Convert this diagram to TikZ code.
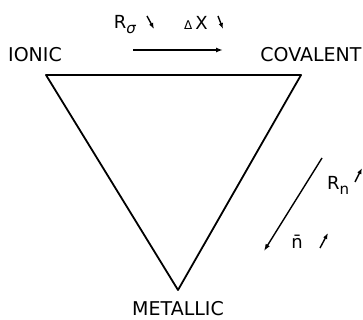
\documentclass[tikz,border=0pt]{standalone}
\usepackage{fontspec}
\setmainfont{DejaVu Sans}
\usetikzlibrary{arrows.meta,positioning}
\tikzset{
  corner/.style={font=\fontsize{19}{21}\selectfont, inner sep=0pt},
  param/.style={font=\fontsize{18}{20}\selectfont, inner sep=0pt},
  edge/.style={line width=1.8pt, line join=round},
  trend/.style={-{Latex[length=7pt,width=5pt]}, line width=1.4pt},
  tick/.style={-{Latex[length=6pt,width=4.5pt]}, line width=1.4pt}
}
\newcommand{\lowsub}[2]{#1\raisebox{-5pt}{\fontsize{15}{16}\selectfont #2}}
\begin{document}
\begin{tikzpicture}[x=1pt,y=-1pt]
  \useasboundingbox (0,0) rectangle (363,320);
  % vertices of the triangle
  \coordinate (ion) at (46,75);
  \coordinate (cov) at (301,75);
  \coordinate (met) at (178,290);
  \draw[edge] (ion) -- (cov) -- (met) -- cycle;
  % corner labels
  \node[corner] (ionic) at (35,55) {IONIC};
  \node[corner] (covalent) at (311,55) {COVALENT};
  \node[corner] (metallic) at (178,309) {METALLIC};
  % top trend
  \coordinate (ta) at (133,50);
  \coordinate (tb) at (223,50);
  \draw[trend] (ta) -- (tb);
  \node[param] (rsig) at (125,25) {\lowsub{R}{\textit{σ}}};
  \coordinate (rs1) at (147,16);
  \coordinate (rs2) at (154,29);
  \draw[tick] (rs1) -- (rs2);
  \node[param] (dx) at (196,23) {{\fontsize{12}{12}\selectfont Δ}\,X};
  \coordinate (dx1) at (218,16);
  \coordinate (dx2) at (223,29);
  \draw[tick] (dx1) -- (dx2);
  % right trend
  \coordinate (ra) at (322,158);
  \coordinate (rb) at (264,251);
  \draw[trend] (ra) -- (rb);
  \node[param] (rn) at (338,185) {\lowsub{R}{n}};
  \coordinate (rn1) at (355,182);
  \coordinate (rn2) at (362,168);
  \draw[tick] (rn1) -- (rn2);
  \node[param] (nbar) at (297,242) {\={n}};
  \coordinate (nb1) at (320,248);
  \coordinate (nb2) at (328,233);
  \draw[tick] (nb1) -- (nb2);
\end{tikzpicture}
\end{document}
